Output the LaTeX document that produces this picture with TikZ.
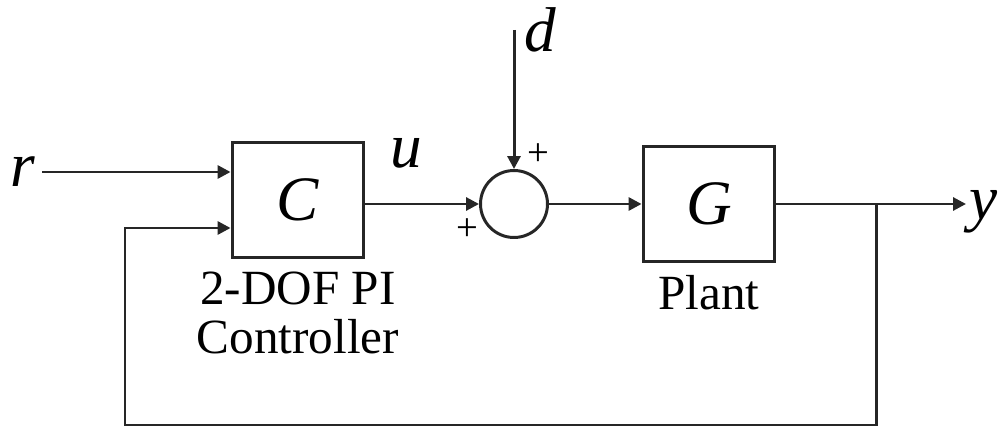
\documentclass[tikz,border=0pt]{standalone}
\usepackage{fontspec}
\setmainfont{Liberation Serif}
\usetikzlibrary{positioning,arrows.meta,calc}

\begin{document}
\begin{tikzpicture}[
  x=0.02cm, y=-0.02cm,
  blk/.style={draw=black!85, line width=2.2pt, minimum width=2.62cm, minimum height=2.3cm, font=\fontsize{36}{36}\selectfont\itshape},
  sumc/.style={draw=black!85, circle, line width=1.7pt, minimum size=1.34cm, inner sep=0pt},
  sig/.style={font=\fontsize{36}{36}\selectfont\itshape, inner sep=0pt, anchor=base west},
  lbl/.style={font=\fontsize{28}{28}\selectfont, align=center, inner sep=0pt},
  pls/.style={font=\fontsize{22}{22}\selectfont, inner sep=0pt},
  arr/.style={-{Triangle[length=2.6mm,width=2.6mm]}, line width=1.7pt, draw=black!85},
  ln/.style={line width=1.7pt, draw=black!85}
]
\useasboundingbox (0,0) rectangle (1003,428);

\node[blk] (ctrl) at (298,200) {C};
\node[sumc] (sum) at (514,204) {};
\node[blk] (plant) at (709,204) {G};

\node[lbl, below=0.24cm of ctrl] (ctrllbl) {2-DOF PI\\Controller};
\node[lbl, below=0.24cm of plant] (plantlbl) {Plant};

% signal ends
\coordinate (rin) at (42,172);
\coordinate (din) at (514,30);
\coordinate (br) at (876,204);
\coordinate (yout) at (966,204);
\coordinate (fb) at (125,425);
\coordinate (fbin) at ($(ctrl.west)+(0,28)$);

\node[sig] (r) at (10,187) {r};
\node[sig] (d) at (524,52) {d};
\node[sig] (y) at (969,220) {y};
\node[sig] (u) at (390,168) {u};

\draw[arr] (rin) -- (ctrl.west |- rin);
\draw[arr] (ctrl.east |- sum.west) -- (sum.west);
\draw[arr] (din) -- (sum.north);
\draw[arr] (sum.east) -- (plant.west |- sum.east);
\draw[arr] (plant.east |- br) -- (yout);
\draw[arr] (br) |- (fb) |- (fbin);

\node[pls] (p1) at (538,155) {+};
\node[pls] (p2) at (467,230) {+};
\end{tikzpicture}
\end{document}
